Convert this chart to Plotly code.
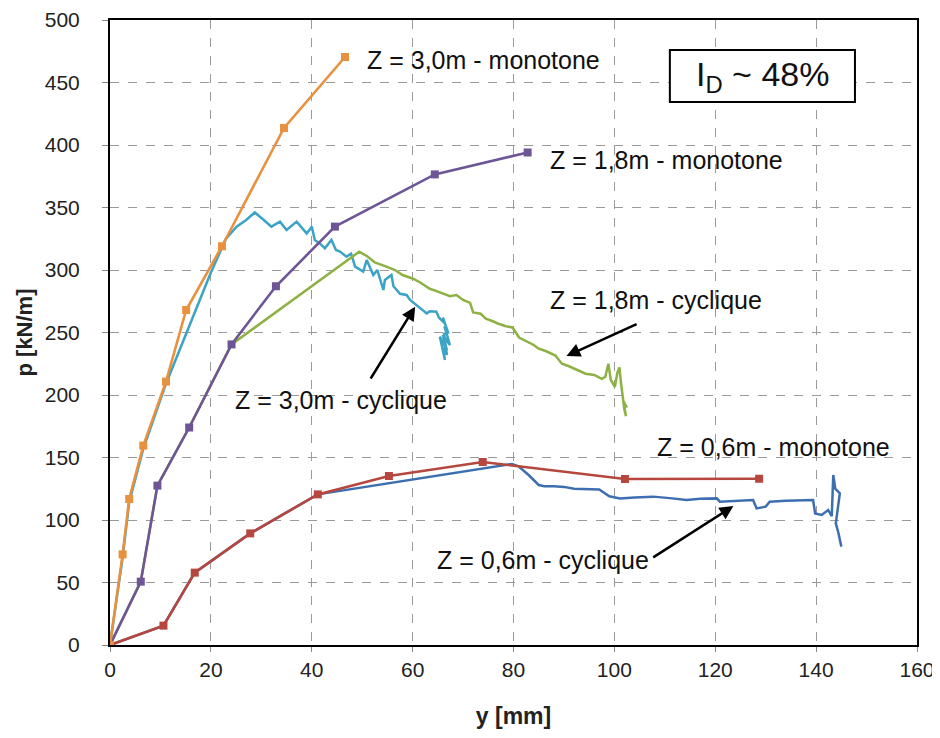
import plotly.graph_objects as go

# ---- data ----
# Z = 3,0m - monotone
y30_mono = [0, 2.5, 3.8, 6.6, 11.1, 15.1, 22.2, 34.5, 46.6]
p30_mono = [0, 72.5, 116.8, 159.5, 210.7, 268, 319, 413.6, 470.4]

# Z = 1,8m - monotone
y18_mono = [0, 6.1, 9.4, 15.7, 24.1, 32.9, 44.6, 64.4, 82.8]
p18_mono = [0, 50.7, 127.5, 174, 240.5, 287, 334.7, 376.5, 394]

# Z = 0,6m - monotone
y06_mono = [0, 10.6, 16.8, 27.8, 41.2, 55.3, 73.9, 102.1, 128.7]
p06_mono = [0, 15.5, 57.9, 89.3, 120.5, 135.2, 146.4, 132.8, 133]

# Z = 3,0m - cyclique
y30_cyc = [0, 2.5, 3.8, 6.6, 11, 16.5, 20, 23, 25.1, 27, 28.7, 30.5, 32, 33.7, 35, 37,
           39, 40, 40.6, 41.6, 42.6, 43.9, 44.8, 45.6, 46.9, 47.8, 48.6, 50.2, 50.9, 52.2,
           53, 54.2, 54.5, 55.8, 56.2, 57.5, 58.8, 59.5, 61.1, 61.5, 62.8, 63.4, 64.7, 65.2,
           66.4, 66.0, 67.1, 66.3, 67.4, 66.0, 66.8, 65.4, 66.4, 66.0, 66.8, 66.2]
p30_cyc = [0, 70, 114, 157, 208, 263, 298, 325, 334.7, 340, 346, 340, 334.7, 338.7, 332, 338.7,
           329.3, 334.7, 324, 321.3, 317.3, 324, 316, 314.7, 310.7, 313, 302.7, 298.7, 308, 296,
           300, 284, 292, 296, 287, 281, 280, 276, 270.7, 269, 265.3, 267, 266.7, 262,
           257.3, 262, 249, 255, 240, 248, 236, 246.7, 228, 238, 232, 250]

# Z = 1,8m - cyclique
y18_cyc = [0, 6.1, 9.4, 15.7, 24.1, 49.4, 51, 52.5, 54.8, 56.5, 58, 60.1, 61.5, 63.4, 64.5,
           66, 67.4, 68.7, 70, 71.4, 72, 73.5, 74.5, 75.9, 77, 78.5, 79.8, 81.1, 82.5, 84, 85,
           86.5, 88.3, 89.6, 91, 92.5, 94.3, 96, 97.5, 98.2, 98.8, 99.3, 100.1, 100.6, 101,
           101.3, 101.6, 102, 102.3, 101.8, 102.5]
p18_cyc = [0, 50.7, 127.5, 174, 240.5, 314.6, 311, 306, 302.7, 300, 296, 293, 290, 285, 283.5,
           281, 279, 280, 276, 273.7, 266, 265, 261, 259, 257, 255, 254, 246, 243, 240, 237,
           235, 231.6, 225, 223, 220, 217, 216, 213, 214.5, 225, 212, 206.6, 218, 222,
           210, 200, 188, 183, 195, 190]

# Z = 0,6m - cyclique
y06_cyc = [0, 10.6, 16.8, 27.8, 41.2, 79.7, 81, 83, 85, 86.1, 88, 90, 92, 95, 97, 99, 101.1,
           104, 107.7, 111, 114.3, 117, 120.3, 120.9, 124, 127.5, 128.2, 130, 130.8, 134,
           139.4, 139.8, 141.1, 142.4, 143.1, 143.4, 143.8, 144.7, 143.9, 144.4, 145]
p06_cyc = [0, 15.5, 57.9, 89.3, 120.5, 144.8, 143, 136, 128, 127, 127, 126.5, 125, 125, 124.5,
           119, 117.3, 118, 118.7, 117.5, 116, 117, 117.3, 114.7, 115.5, 116, 109.3, 110.7,
           114.7, 115.5, 116, 105.3, 104, 108, 103, 136, 125, 121.3, 97.3, 90, 78.7]

labels = {
    "30m": "Z = 3,0m - monotone",
    "18m": "Z = 1,8m - monotone",
    "18c": "Z = 1,8m - cyclique",
    "30c": "Z = 3,0m - cyclique",
    "06m": "Z = 0,6m - monotone",
    "06c": "Z = 0,6m - cyclique",
}

x_ticks = list(range(0, 161, 20))
y_ticks = list(range(0, 501, 50))

FONT = "Arial, Liberation Sans, sans-serif"

fig = go.Figure()

# cyclic curves (underneath)
fig.add_trace(go.Scatter(x=y30_cyc, y=p30_cyc, mode="lines",
                         line=dict(color="#3BA3C4", width=2.5), name=labels["30c"]))
fig.add_trace(go.Scatter(x=y18_cyc, y=p18_cyc, mode="lines",
                         line=dict(color="#8DB243", width=2.5), name=labels["18c"]))
fig.add_trace(go.Scatter(x=y06_cyc, y=p06_cyc, mode="lines",
                         line=dict(color="#3D6FB0", width=2.5), name=labels["06c"]))

# monotone curves
mk = dict(symbol="square", size=8)
fig.add_trace(go.Scatter(x=y06_mono, y=p06_mono, mode="lines+markers",
                         line=dict(color="#B5473F", width=2.6),
                         marker=dict(color="#B5473F", **mk), name=labels["06m"]))
fig.add_trace(go.Scatter(x=y18_mono, y=p18_mono, mode="lines+markers",
                         line=dict(color="#6E5696", width=2.6),
                         marker=dict(color="#6E5696", **mk), name=labels["18m"]))
fig.add_trace(go.Scatter(x=y30_mono, y=p30_mono, mode="lines+markers",
                         line=dict(color="#E8913F", width=2.6),
                         marker=dict(color="#E8913F", **mk), name=labels["30m"]))

ann_font = dict(family=FONT, size=25, color="#111111")
text_pos = {
    "30m": (50.6, 468),
    "18m": (86.8, 388),
    "18c": (86.8, 276),
    "30c": (24.4, 196),
    "06m": (108.0, 158.4),
    "06c": (64.4, 68),
}
for k, (tx, ty) in text_pos.items():
    fig.add_annotation(x=tx, y=ty, text=labels[k], showarrow=False,
                       xanchor="left", yanchor="middle", font=ann_font)

# arrows (head, tail)
arrows = [
    ((60.5, 270.7), (51.5, 212)),
    ((90.5, 231.2), (104.7, 257.3)),
    ((123.6, 111.2), (107.4, 69.3)),
]
for (hx, hy), (tx, ty) in arrows:
    fig.add_annotation(x=hx, y=hy, ax=tx, ay=ty, axref="x", ayref="y", xref="x", yref="y",
                       text="", showarrow=True, arrowhead=2, arrowsize=1.1,
                       arrowwidth=2.5, arrowcolor="black")

# I_D box
fig.add_shape(type="rect", x0=111, x1=147.7, y0=434.4, y1=476,
              line=dict(color="black", width=2), fillcolor="white", layer="above")
fig.add_annotation(x=129.3, y=455, text="I<sub>D</sub> ~ 48%", showarrow=False,
                   font=dict(family=FONT, size=34, color="#111111"))

fig.update_layout(
    width=940, height=738,
    margin=dict(l=102, r=31, t=12, b=101),
    plot_bgcolor="white", paper_bgcolor="white",
    showlegend=False,
    font=dict(family=FONT, size=21, color="#222222"),
)
fig.update_xaxes(range=[0, 160], tickvals=x_ticks, showgrid=True, gridcolor="#9a9a9a",
                 griddash="dash", gridwidth=1, showline=True, linecolor="black", linewidth=2,
                 mirror=True, ticks="outside", ticklen=5, tickcolor="#888888",
                 zeroline=False, automargin=False, tickfont=dict(size=21),
                 title=dict(text="<b>y [mm]</b>", font=dict(size=23, family=FONT), standoff=28))
fig.update_yaxes(range=[0, 500], tickvals=y_ticks, showgrid=True, gridcolor="#9a9a9a",
                 griddash="dash", gridwidth=1, showline=True, linecolor="black", linewidth=2,
                 mirror=True, ticks="outside", ticklen=6, tickcolor="#888888",
                 zeroline=False, automargin=False, tickfont=dict(size=21),
                 ticklabelstandoff=18,
                 title=dict(text="<b>p [kN/m]</b>", font=dict(size=22, family=FONT), standoff=6))

fig.write_html("out.html")
